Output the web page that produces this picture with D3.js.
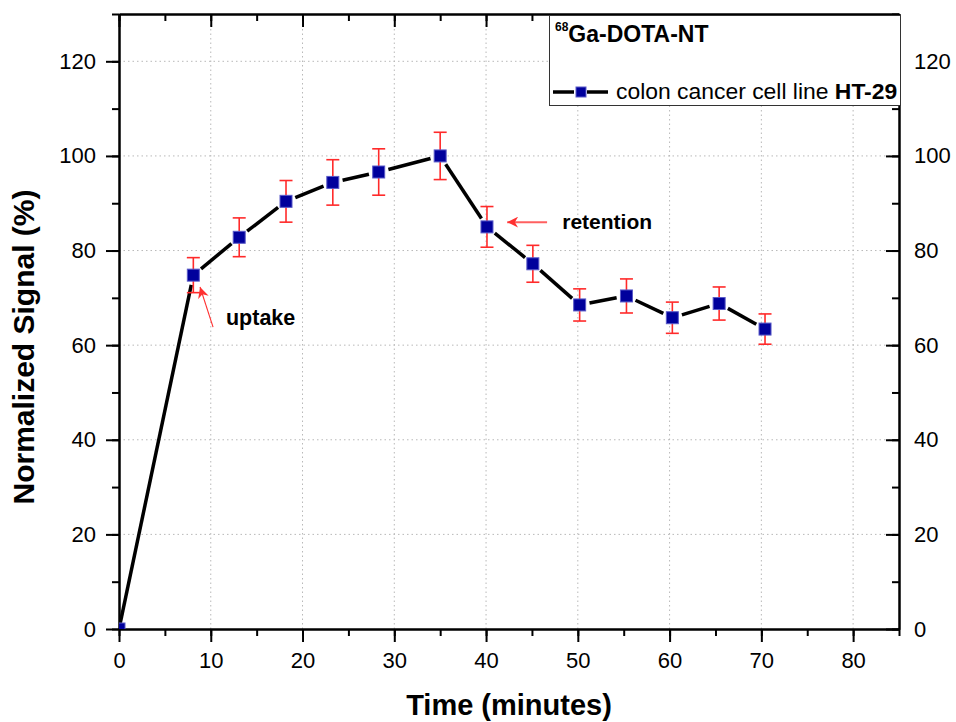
<!DOCTYPE html>
<html><head><meta charset="utf-8">
<script src="https://cdn.jsdelivr.net/npm/d3@7"></script>
<style>html,body{margin:0;padding:0;background:#fff}svg{display:block;font-family:"Liberation Sans",Arial,sans-serif}</style>
</head><body><svg id="c" width="956" height="722"></svg>
<script>
const times  = [0, 8.1, 13.1, 18.2, 23.3, 28.3, 35, 40.1, 45.1, 50.2, 55.3, 60.3, 65.4, 70.4];
const signal = [0, 74.8, 82.8, 90.4, 94.4, 96.6, 100, 85.0, 77.2, 68.5, 70.4, 65.8, 68.8, 63.4];
const errors = [0, 3.7, 4.1, 4.4, 4.8, 4.9, 5.0, 4.3, 3.9, 3.4, 3.6, 3.3, 3.5, 3.2];
const xTicks = [0, 10, 20, 30, 40, 50, 60, 70, 80];
const yTicks = [0, 20, 40, 60, 80, 100, 120];
const xTitle = "Time (minutes)";
const yTitle = "Normalized Signal (%)";
const legendTitleSup = "68";
const legendTitle = "Ga-DOTA-NT";
const seriesLabel = "colon cancer cell line ";
const seriesLabelBold = "HT-29";

const W = 956, H = 722;
const m = {left: 119, right: 57, top: 14, bottom: 93};
const svg = d3.select("#c");
const x = d3.scaleLinear().domain([0, 85]).range([m.left, W - m.right]);
const y = d3.scaleLinear().domain([0, 130]).range([H - m.bottom, m.top]);
const x0 = x.range()[0], x1 = x.range()[1], y0 = y.range()[0], y1 = y.range()[1];

svg.append("defs").append("clipPath").attr("id", "clip")
  .append("rect").attr("x", x0).attr("y", y1).attr("width", x1 - x0).attr("height", y0 - y1);

// grid
const grid = svg.append("g").attr("stroke", "#b8b8b8").attr("stroke-width", 1).attr("stroke-dasharray", "1.5,3");
grid.selectAll(".gx").data(xTicks.filter(d => d > 0)).join("line")
  .attr("x1", d => x(d)).attr("x2", d => x(d)).attr("y1", y0).attr("y2", y1);
grid.selectAll(".gy").data(yTicks.filter(d => d > 0)).join("line")
  .attr("y1", d => y(d)).attr("y2", d => y(d)).attr("x1", x0).attr("x2", x1);

// axes
const fs = 22;
const xMinor = d3.range(0, 86, 5);
const yMinor = d3.range(0, 131, 10);
function styleAxis(g) {
  g.selectAll("path").attr("stroke", "#000").attr("stroke-width", 2);
  g.selectAll("line").attr("stroke", "#000").attr("stroke-width", 2);
  g.selectAll("text").attr("font-size", fs).attr("fill", "#000").attr("font-family", "Liberation Sans, Arial, sans-serif");
}
// bottom
svg.append("g").attr("transform", `translate(0,${y0})`)
  .call(d3.axisBottom(x).tickValues(xMinor).tickSize(7).tickFormat("").tickSizeOuter(0)).call(styleAxis);
svg.append("g").attr("transform", `translate(0,${y0})`)
  .call(d3.axisBottom(x).tickValues(xTicks).tickSize(13).tickPadding(10).tickSizeOuter(0)).call(styleAxis);
// top
svg.append("g").attr("transform", `translate(0,${y1})`)
  .call(d3.axisTop(x).tickValues(xMinor).tickSize(-7).tickFormat("").tickSizeOuter(0)).call(styleAxis);
svg.append("g").attr("transform", `translate(0,${y1})`)
  .call(d3.axisTop(x).tickValues(xTicks).tickSize(-13).tickFormat("").tickSizeOuter(0)).call(styleAxis);
// left
svg.append("g").attr("transform", `translate(${x0},0)`)
  .call(d3.axisLeft(y).tickValues(yMinor).tickSize(7).tickFormat("").tickSizeOuter(0)).call(styleAxis);
svg.append("g").attr("transform", `translate(${x0},0)`)
  .call(d3.axisLeft(y).tickValues(yTicks).tickSize(13).tickPadding(10).tickSizeOuter(0)).call(styleAxis);
// right (ticks inward)
svg.append("g").attr("transform", `translate(${x1},0)`)
  .call(d3.axisRight(y).tickValues(yMinor).tickSize(-7).tickFormat("").tickSizeOuter(0)).call(styleAxis);
const ra = svg.append("g").attr("transform", `translate(${x1},0)`)
  .call(d3.axisRight(y).tickValues(yTicks).tickSize(-13).tickPadding(0).tickSizeOuter(0)).call(styleAxis);
ra.selectAll("text").attr("x", 15);

// data
const pts = times.map((t, i) => ({t, v: signal[i], e: errors[i]}));
const plot = svg.append("g").attr("clip-path", "url(#clip)");
// line segments with gaps at markers
const gap = 10;
for (let i = 0; i < pts.length - 1; i++) {
  const ax = x(pts[i].t), ay = y(pts[i].v), bx = x(pts[i + 1].t), by = y(pts[i + 1].v);
  const L = Math.hypot(bx - ax, by - ay), ux = (bx - ax) / L, uy = (by - ay) / L;
  const g0 = i === 0 ? 0 : gap;
  plot.append("line")
    .attr("x1", ax + ux * g0).attr("y1", ay + uy * g0)
    .attr("x2", bx - ux * gap).attr("y2", by - uy * gap)
    .attr("stroke", "#000").attr("stroke-width", 3.5);
}
// error bars
const eb = plot.append("g").attr("stroke", "#ff2a2a").attr("stroke-width", 1.6);
pts.filter(d => d.e > 0).forEach(d => {
  const cx = x(d.t);
  eb.append("line").attr("x1", cx).attr("x2", cx).attr("y1", y(d.v + d.e)).attr("y2", y(d.v - d.e));
  eb.append("line").attr("x1", cx - 6.5).attr("x2", cx + 6.5).attr("y1", y(d.v + d.e)).attr("y2", y(d.v + d.e));
  eb.append("line").attr("x1", cx - 6.5).attr("x2", cx + 6.5).attr("y1", y(d.v - d.e)).attr("y2", y(d.v - d.e));
});
// markers
plot.selectAll(".mk").data(pts).join("rect")
  .attr("x", d => x(d.t) - 6).attr("y", d => y(d.v) - 6).attr("width", 12).attr("height", 12)
  .attr("fill", "#00009c").attr("stroke", "#5a5ac8").attr("stroke-width", 1);

// annotations
const red = "#ff3030";
const defs = svg.select("defs");
defs.append("marker").attr("id", "ah").attr("viewBox", "0 0 10 10").attr("refX", 10).attr("refY", 5)
  .attr("markerWidth", 11).attr("markerHeight", 11).attr("markerUnits", "userSpaceOnUse").attr("orient", "auto")
  .append("path").attr("d", "M0,0 L10,5 L0,10 L3,5 Z").attr("fill", red);
svg.append("line").attr("x1", x(10.25)).attr("y1", y(63.8)).attr("x2", x(8.83)).attr("y2", y(72.3))
  .attr("stroke", red).attr("stroke-width", 1.1).attr("marker-end", "url(#ah)");
svg.append("text").attr("x", x(11.66)).attr("y", y(64.3)).attr("font-size", 21.5).attr("font-weight", "bold").text("uptake");
svg.append("line").attr("x1", x(46.65)).attr("y1", y(86.0)).attr("x2", x(42.3)).attr("y2", y(86.0))
  .attr("stroke", "#ff6060").attr("stroke-width", 2).attr("marker-end", "url(#ah)");
svg.append("text").attr("x", x(48.3)).attr("y", y(84.5)).attr("font-size", 21).attr("font-weight", "bold").text("retention");

// legend
const lg = svg.append("g");
lg.append("rect").attr("x", 549.5).attr("y", 15.5).attr("width", 351).attr("height", 90)
  .attr("fill", "#fff").attr("stroke", "#333").attr("stroke-width", 1);
const tt = lg.append("text").attr("x", 555).attr("y", 42).attr("font-weight", "bold");
tt.append("tspan").attr("font-size", 12).attr("dy", -11).text(legendTitleSup);
tt.append("tspan").attr("font-size", 23).attr("dy", 11).text(legendTitle);
lg.append("line").attr("x1", 553).attr("x2", 574).attr("y1", 92).attr("y2", 92).attr("stroke", "#000").attr("stroke-width", 3.5);
lg.append("line").attr("x1", 587).attr("x2", 608).attr("y1", 92).attr("y2", 92).attr("stroke", "#000").attr("stroke-width", 3.5);
lg.append("rect").attr("x", 576).attr("y", 87).attr("width", 10).attr("height", 10).attr("fill", "#00009c").attr("stroke", "#5a5ac8");
const st = lg.append("text").attr("x", 616).attr("y", 99).attr("font-size", 22.9);
st.append("tspan").text(seriesLabel);
st.append("tspan").attr("font-weight", "bold").text(seriesLabelBold);

// axis titles
svg.append("text").attr("x", (x0 + x1) / 2).attr("y", 715).attr("text-anchor", "middle")
  .attr("font-size", 29).attr("font-weight", "bold").text(xTitle);
svg.append("text").attr("transform", `translate(34,347) rotate(-90)`).attr("text-anchor", "middle")
  .attr("font-size", 30).attr("font-weight", "bold").text(yTitle);
</script></body></html>
